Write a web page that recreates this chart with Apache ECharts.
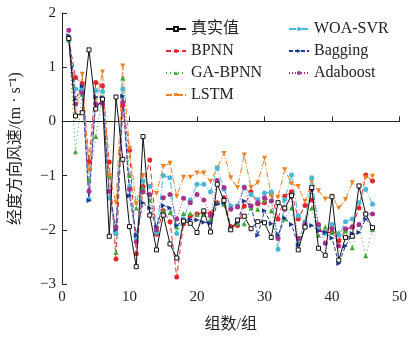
<!DOCTYPE html>
<html>
<head>
<meta charset="utf-8">
<script src="https://cdn.jsdelivr.net/npm/echarts@6/dist/echarts.min.js"></script>
<style>
  html, body { margin: 0; background: #fff; }
  #chart { width: 410px; height: 338px; }
</style>
</head>
<body>
<div id="chart"></div>
<script>
"use strict";

// group index 1..46
const groups = Array.from({ length: 46 }, (_, i) => i + 1);

const actual = [1.53, 0.10, 0.16, 1.32, 0.23, 0.41, -2.12, 0.45, -0.70, -1.94,
  -2.68, -0.28, -1.73, -2.37, -1.73, -2.26, -2.52, -1.84, -1.88, -2.05,
  -1.65, -2.04, -1.16, -1.46, -2.00, -1.82, -1.75, -1.98, -1.85, -1.87,
  -2.14, -1.50, -1.60, -1.37, -2.37, -1.95, -1.22, -2.34, -2.47, -1.39,
  -2.56, -2.14, -2.12, -1.19, -1.71, -1.96];

const bpnn = [1.53, 0.81, 0.70, -0.74, 0.72, 0.66, -0.75, -2.54, 0.30, -0.53,
  -2.44, -1.20, -0.71, -2.08, -1.65, -1.85, -2.87, -1.89, -1.75, -1.71,
  -1.68, -1.70, -1.50, -1.41, -1.94, -1.92, -1.56, -1.30, -1.52, -1.50,
  -1.32, -1.80, -1.38, -1.30, -1.80, -1.55, -1.45, -2.00, -2.05, -2.05,
  -2.20, -2.00, -1.95, -1.60, -0.99, -1.10];

const gaBpnn = [1.50, -0.56, 0.50, -1.07, -0.28, 0.45, -1.00, -2.42, 0.80, -1.00,
  -1.60, -1.23, -1.45, -2.00, -1.65, -1.68, -1.95, -1.70, -1.70, -1.72,
  -1.72, -1.80, -1.50, -1.53, -1.98, -1.88, -1.89, -1.60, -1.62, -1.45,
  -1.65, -2.10, -1.80, -1.60, -2.25, -1.85, -1.60, -2.10, -1.95, -2.05,
  -2.05, -2.02, -2.33, -1.90, -2.48, -2.00];

const lstm = [1.50, 0.08, 0.87, -0.90, 0.30, 0.91, -1.00, -1.50, 1.02, -0.50,
  -1.52, -1.00, -1.20, -1.33, -0.83, -0.77, -1.38, -1.03, -1.03, -0.95,
  -0.95, -1.11, -0.86, -0.59, -1.04, -1.22, -0.62, -1.22, -1.13, -0.68,
  -1.38, -1.40, -0.89, -1.15, -1.20, -1.48, -1.11, -1.28, -1.43, -1.38,
  -1.60, -1.44, -1.13, -1.20, -1.04, -1.01];

const woaSvr = [1.50, 0.60, 0.57, -1.44, 0.57, 0.55, -1.41, -2.07, 0.60, -1.20,
  -2.15, -1.10, -1.20, -2.05, -1.00, -1.04, -2.07, -1.80, -1.45, -1.16,
  -1.16, -1.30, -0.86, -1.25, -1.56, -1.55, -1.21, -1.35, -1.44, -1.32,
  -1.30, -2.36, -1.44, -0.99, -1.74, -1.85, -1.04, -1.95, -2.07, -1.90,
  -2.10, -1.85, -1.80, -1.50, -1.25, -1.53];

const bagging = [1.58, 0.41, 0.65, -1.46, 0.45, 0.44, -1.30, -2.00, 0.47, -1.37,
  -2.10, -1.50, -1.60, -1.95, -1.55, -1.60, -1.92, -1.82, -1.81, -1.82,
  -1.86, -1.88, -1.53, -1.50, -2.00, -1.86, -1.47, -1.55, -2.10, -1.65,
  -1.89, -2.10, -1.78, -1.90, -2.28, -1.95, -1.92, -2.02, -2.05, -2.15,
  -2.62, -2.30, -2.07, -2.05, -1.80, -1.96];

const adaboost = [1.68, 0.32, 0.53, -1.29, 0.32, 0.33, -1.29, -1.95, 0.35, -1.25,
  -2.22, -1.30, -1.35, -2.00, -1.41, -1.35, -1.80, -1.42, -1.50, -1.35,
  -1.45, -1.74, -1.09, -1.22, -1.62, -1.58, -1.22, -1.56, -1.50, -1.41,
  -1.47, -2.16, -1.62, -1.38, -2.16, -1.90, -1.25, -1.90, -2.25, -1.98,
  -2.30, -1.98, -1.95, -1.90, -1.71, -1.71];

const serifFont = "'Liberation Serif', 'Noto Sans CJK SC', serif";

function pairs(values) {
  return values.map((v, i) => [groups[i], v]);
}

function lineSeries(name, values, color, dash, symbol, extra) {
  return Object.assign({
    name: name,
    type: "line",
    data: pairs(values),
    symbol: symbol,
    symbolSize: 5,
    lineStyle: { color: color, width: 1, type: dash },
    itemStyle: { color: color },
    emphasis: { disabled: true },
    animation: false,
  }, extra || {});
}

const series = [
  lineSeries("BPNN", bpnn, "#e8262a", [5, 3], "circle"),
  lineSeries("GA-BPNN", gaBpnn, "#3aa935", [1, 3], "triangle"),
  lineSeries("LSTM", lstm, "#f07f1f", [6, 2, 1, 2], "triangle", { symbolRotate: 180 }),
  lineSeries("WOA-SVR", woaSvr, "#47b8d8", [7, 2, 1, 2], "circle"),
  lineSeries("Bagging", bagging, "#1d3b96", [4, 2], "triangle", { symbolRotate: -90 }),
  lineSeries("Adaboost", adaboost, "#a8318f", [1, 2], "circle"),
  lineSeries("真实值", actual, "#111", "solid", "rect", {
    itemStyle: { color: "#fff", borderColor: "#111", borderWidth: 1 },
    symbolSize: 4,
    z: 5,
  }),
];

const legendBase = {
  orient: "vertical",
  top: 15,
  itemGap: 4,
  itemWidth: 20,
  itemHeight: 5,
  textStyle: { fontFamily: serifFont, fontSize: 16, color: "#222", lineHeight: 18 },
};

const chart = echarts.init(document.getElementById("chart"));
chart.setOption({
  backgroundColor: "#fff",
  animation: false,
  grid: { left: 59, right: 10, top: 13, bottom: 51 },
  legend: [
    Object.assign({ left: 160, data: ["真实值", "BPNN", "GA-BPNN", "LSTM"] }, legendBase),
    Object.assign({ left: 283, data: ["WOA-SVR", "Bagging", "Adaboost"] }, legendBase),
  ],
  xAxis: {
    type: "value",
    min: 0,
    max: 50,
    interval: 10,
    name: "组数/组",
    nameLocation: "middle",
    nameGap: 33,
    nameTextStyle: { fontFamily: serifFont, fontSize: 16, color: "#222" },
    axisLine: { lineStyle: { color: "#222", width: 1 } },
    axisTick: { inside: true, length: 5, lineStyle: { color: "#222" } },
    axisLabel: { fontFamily: serifFont, fontSize: 15, color: "#222", margin: 6 },
    splitLine: { show: false },
  },
  yAxis: {
    type: "value",
    min: -3,
    max: 2,
    interval: 1,
    name: "经度方向风速/(m · s⁻¹)",
    nameLocation: "middle",
    nameGap: 38,
    nameTextStyle: { fontFamily: serifFont, fontSize: 16, color: "#222" },
    axisLine: { show: true, lineStyle: { color: "#222", width: 1 } },
    axisTick: { show: true, inside: true, length: 5, lineStyle: { color: "#222" } },
    axisLabel: {
      fontFamily: serifFont,
      fontSize: 15,
      color: "#222",
      margin: 6,
      formatter: (v) => (v < 0 ? "−" + Math.abs(v) : String(v)),
    },
    splitLine: { show: false },
  },
  series: series,
});
</script>
</body>
</html>
